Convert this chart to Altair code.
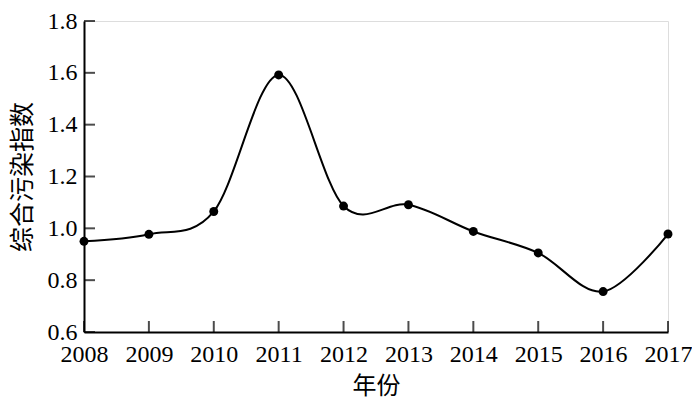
import altair as alt
import pandas as pd

years = [2008, 2009, 2010, 2011, 2012, 2013, 2014, 2015, 2016, 2017]
values = [0.95, 0.977, 1.065, 1.592, 1.086, 1.091, 0.988, 0.905, 0.756, 0.978]
y_ticks = [0.6, 0.8, 1.0, 1.2, 1.4, 1.6, 1.8]

df = pd.DataFrame({"year": years, "value": values})
df_xt = pd.DataFrame({"year": years})
df_yt = pd.DataFrame({"v": y_ticks})

FONT = "Liberation Serif, Times New Roman, Noto Sans CJK SC"

xs = alt.Scale(domain=[2008, 2017], nice=False, zero=False)
ys = alt.Scale(domain=[0.6, 1.8], nice=False, zero=False)

base = alt.Chart(df)

line = base.mark_line(interpolate="cardinal", tension=0, color="black", strokeWidth=2).encode(
    x=alt.X("year:Q", scale=xs,
            axis=alt.Axis(values=years, format="d", title="年份", tickSize=0,
                          labelPadding=10, titlePadding=8, domainWidth=2,
                          domainColor="black", grid=False, labelFontSize=24,
                          titleFontSize=24, labelFont=FONT, titleFont=FONT,
                          labelColor="black", titleColor="black",
                          titleFontWeight="normal", labelFlush=False)),
    y=alt.Y("value:Q", scale=ys,
            axis=alt.Axis(values=y_ticks, format=".1f", title="综合污染指数", tickSize=0,
                          labelPadding=7, titlePadding=12, domainWidth=2,
                          domainColor="black", grid=False, labelFontSize=24,
                          titleFontSize=25, labelFont=FONT, titleFont=FONT,
                          labelColor="black", titleColor="black",
                          titleFontWeight="normal", labelFlush=False)),
)

pts = base.mark_circle(color="black", opacity=1, size=80).encode(
    x=alt.X("year:Q", scale=xs), y=alt.Y("value:Q", scale=ys)
)

xticks = alt.Chart(df_xt).mark_tick(color="black", thickness=2, size=11, yOffset=-5.5).encode(
    x=alt.X("year:Q", scale=xs), y=alt.datum(0.6, scale=ys)
)

yticks = alt.Chart(df_yt).mark_tick(color="black", thickness=2, size=11, xOffset=5.5, orient="horizontal").encode(
    y=alt.Y("v:Q", scale=ys), x=alt.datum(2008, scale=xs)
)

chart = alt.layer(line, pts, xticks, yticks).properties(
    width=584, height=311,
    autosize=alt.AutoSizeParams(type="none"),
    padding={"left": 76, "top": 13, "right": 24, "bottom": 69},
).configure_view(stroke=None).configure(background="white")

chart.save("out.html", embed_options={"renderer": "svg", "actions": False})
